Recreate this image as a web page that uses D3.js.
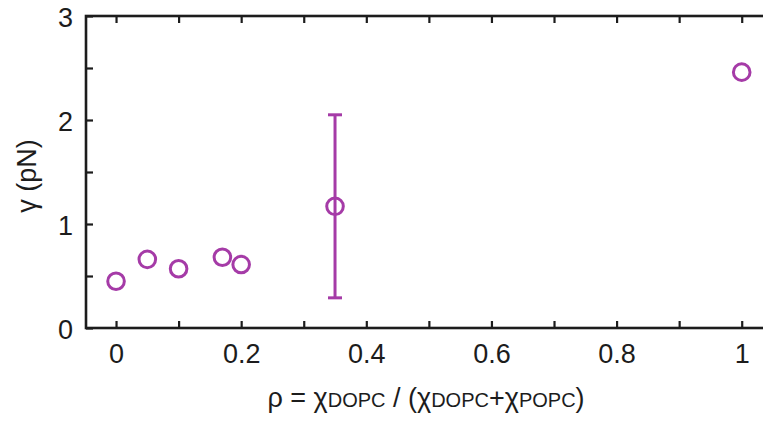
<!DOCTYPE html>
<html>
<head>
<meta charset="utf-8">
<script src="https://cdn.jsdelivr.net/npm/d3@7"></script>
<style>
  body { margin: 0; background: #fff; }
  svg { display: block; font-family: "Liberation Sans", Arial, sans-serif; }
</style>
</head>
<body>
<svg class="chart" width="763" height="424"></svg>
<script>
// composition rho and line tension gamma (pN)
let rho = [0, 0.05, 0.1, 0.17, 0.2, 0.35, 1];
let gamma = [0.45, 0.66, 0.57, 0.68, 0.61, 1.17, 2.46];
// only the rho = 0.35 point carries an error bar
let errRho = [0.35];
let errLow = [0.29];
let errHigh = [2.05];

let xTicks = [0, 0.2, 0.4, 0.6, 0.8, 1];
let xMinor = [0.1, 0.3, 0.5, 0.7, 0.9];
let yTicks = [0, 1, 2, 3];
let yMinor = [0.5, 1.5, 2.5];

let purple = "#a53ba7";
let ink = "#1c1c1c";

let svg = d3.select("svg.chart");
let margin = {top: 16, left: 86};
let plotWidth = 687;   // right frame sits just outside the picture
let plotHeight = 312;

let xScale = d3.scaleLinear().domain([-0.048, 1.05]).range([0, plotWidth]);
let yScale = d3.scaleLinear().domain([0, 3]).range([plotHeight, 0]);

let plot = svg.append("g").attr("transform", translate(margin.left, margin.top));

// ticks pointing inward on all four sides
let tickLen = 7;
function addAxis(axis, tx, ty, labels) {
  let g = plot.append("g").attr("transform", translate(tx, ty)).call(axis);
  g.select(".domain").remove();
  g.selectAll("line").attr("stroke", ink).attr("stroke-width", 2.2);
  if (!labels) g.selectAll("text").remove();
  return g;
}

let xAll = xTicks.concat(xMinor);
let yAll = yTicks.concat(yMinor);

let xb = addAxis(d3.axisBottom(xScale).tickValues(xTicks).tickSize(-tickLen)
  .tickFormat(d3.format("~g")).tickPadding(0), 0, plotHeight, true);
xb.selectAll("text")
  .attr("y", 16)
  .attr("font-size", 27)
  .attr("fill", ink);
addAxis(d3.axisBottom(xScale).tickValues(xMinor).tickSize(-tickLen), 0, plotHeight, false);
addAxis(d3.axisTop(xScale).tickValues(xAll).tickSize(-tickLen), 0, 0, false);

let yl = addAxis(d3.axisLeft(yScale).tickValues(yTicks).tickSize(-tickLen)
  .tickFormat(d3.format("d")).tickPadding(0), 0, 0, true);
yl.selectAll("text")
  .attr("x", -13)
  .attr("dy", "0.4em")
  .attr("font-size", 27)
  .attr("fill", ink);
addAxis(d3.axisLeft(yScale).tickValues(yMinor).tickSize(-tickLen), 0, 0, false);
addAxis(d3.axisRight(yScale).tickValues(yAll).tickSize(-tickLen), plotWidth, 0, false);

// frame
plot.append("rect")
  .attr("width", plotWidth)
  .attr("height", plotHeight)
  .attr("fill", "none")
  .attr("stroke", ink)
  .attr("stroke-width", 2.6);

// error bar
let errData = errRho.map((r, i) => ({r: r, lo: errLow[i], hi: errHigh[i]}));
let capW = 7;
let eb = plot.selectAll(".err").data(errData).enter().append("g")
  .attr("stroke", purple).attr("stroke-width", 3);
eb.append("line")
  .attr("x1", d => xScale(d.r)).attr("x2", d => xScale(d.r))
  .attr("y1", d => yScale(d.lo)).attr("y2", d => yScale(d.hi));
eb.append("line")
  .attr("x1", d => xScale(d.r) - capW).attr("x2", d => xScale(d.r) + capW)
  .attr("y1", d => yScale(d.hi)).attr("y2", d => yScale(d.hi));
eb.append("line")
  .attr("x1", d => xScale(d.r) - capW).attr("x2", d => xScale(d.r) + capW)
  .attr("y1", d => yScale(d.lo)).attr("y2", d => yScale(d.lo));

// points
let points = rho.map((r, i) => ({r: r, g: gamma[i]}));
plot.selectAll(".pt").data(points).enter().append("circle")
  .attr("class", "pt")
  .attr("cx", d => xScale(d.r))
  .attr("cy", d => yScale(d.g))
  .attr("r", 8.3)
  .attr("fill", "none")
  .attr("stroke", purple)
  .attr("stroke-width", 3);

// axis titles
let xt = svg.append("text")
  .attr("transform", "translate(426,407)")
  .attr("text-anchor", "middle")
  .attr("font-size", 27)
  .attr("fill", ink);
let parts = [["ρ = χ", 27], ["DOPC", 20], [" / (χ", 27], ["DOPC", 20], ["+χ", 27], ["POPC", 20], [")", 27]];
parts.forEach(p => xt.append("tspan").attr("font-size", p[1]).text(p[0]));

svg.append("text")
  .attr("transform", "translate(36,176) rotate(-90)")
  .attr("text-anchor", "middle")
  .attr("font-size", 27)
  .attr("fill", ink)
  .text("γ (pN)");

function translate(x, y) {
  return 'translate(' + x + ',' + y + ')';
}
</script>
</body>
</html>
